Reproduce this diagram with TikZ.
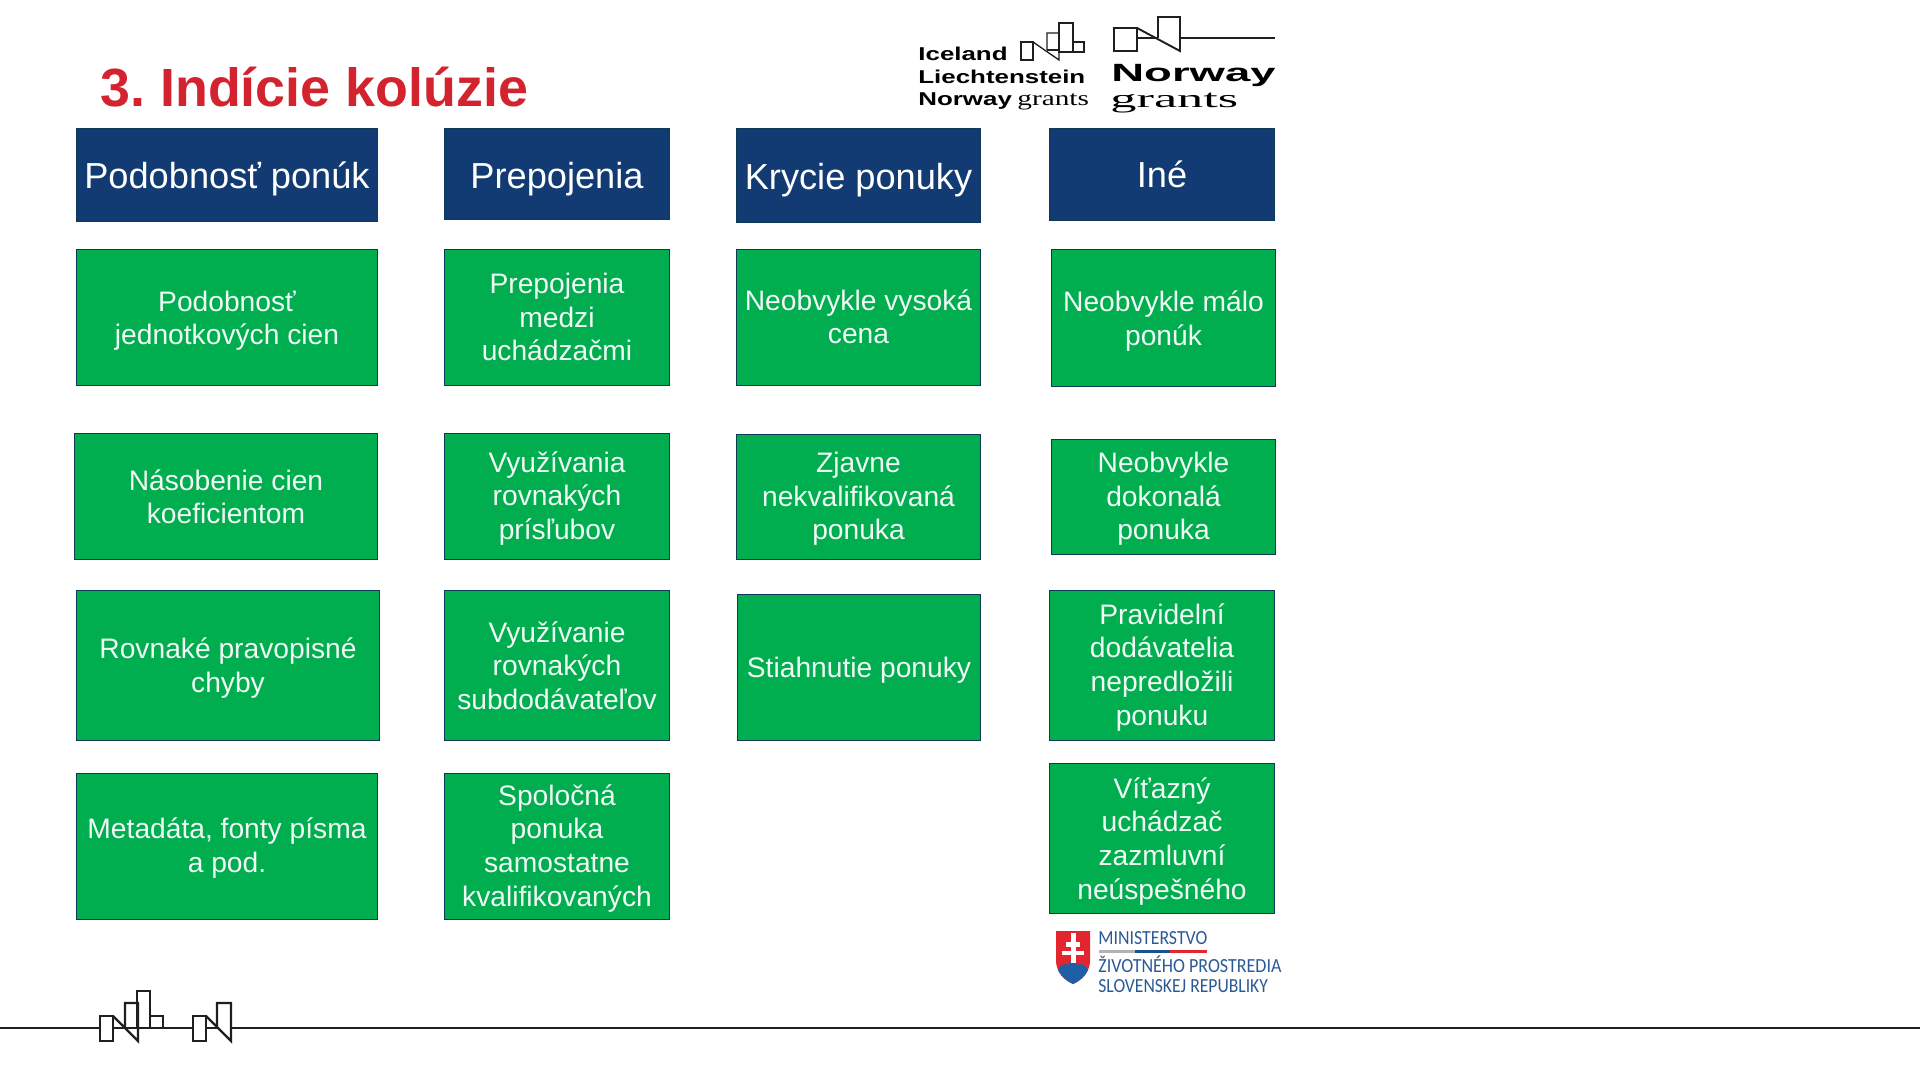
\documentclass[tikz,border=0pt]{standalone}
\usepackage{fontspec}
\setmainfont{Liberation Sans}
\frenchspacing
\newfontfamily\wideb[FakeStretch=1.45]{Liberation Sans}
\newfontfamily\slab[FakeStretch=1.5]{Liberation Serif}
\newfontfamily\minis{Carlito}
\definecolor{navy}{HTML}{123B73}
\definecolor{grn}{HTML}{00AD4F}
\definecolor{edge}{HTML}{0F3A55}
\definecolor{ttl}{HTML}{D2232F}
\definecolor{minblue}{HTML}{2A5A96}
\definecolor{shred}{HTML}{E3262E}
\definecolor{shblue}{HTML}{1F5FA8}
\tikzset{
  x=0.5pt,y=-0.5pt,
  cell/.style={draw=edge,line width=0.8pt,inner sep=0pt,text=white},
  headbox/.style={cell,fill=navy,font=\fontsize{18.1}{21}\selectfont},
  greenbox/.style={cell,fill=grn,text=white!94!grn,font=\fontsize{14.1}{16.8}\selectfont},
  logomark/.style={draw=black!88,line width=1.15pt,line join=miter},
  thinmark/.style={draw=black!88,line width=0.65pt},
  logotext/.style={anchor=base west,inner sep=0pt},
}
% style, name, x1, y1, x2, y2, downward text shift in px, text
\newcommand{\cellbox}[8]{%
  \pgfmathsetmacro{\cx}{(#3+#5)/2}\pgfmathsetmacro{\cy}{(#4+#6)/2}%
  \pgfmathsetmacro{\ww}{(#5-#3)*0.5-0.6}\pgfmathsetmacro{\hh}{(#6-#4)*0.5-0.6}%
  \node[#1,minimum width=\ww pt,minimum height=\hh pt] (#2) at (\cx,\cy)
    {\raisebox{0pt}[\dimexpr\height+#7pt\relax][\depth]{\begin{tabular}{@{}c@{}}#8\end{tabular}}};}
\begin{document}
\begin{tikzpicture}
\useasboundingbox (0,0) rectangle (1920,1080);
\fill[white] (0,0) rectangle (1920,1080);
\node[anchor=base west,inner sep=0pt,text=ttl,font=\fontsize{26.9}{30}\selectfont\bfseries] (title) at (100,107) {3. Indície kolúzie};
% column 1
\cellbox{headbox}{h1}{76}{128}{378}{222}{4.7}{Podobnosť ponúk}
\cellbox{greenbox}{a1}{76}{249}{378}{386}{3.7}{Podobnosť\\jednotkových cien}
\cellbox{greenbox}{a2}{74}{433}{378}{560}{3.6}{Násobenie cien\\koeficientom}
\cellbox{greenbox}{a3}{76}{590}{380}{741}{3.5}{Rovnaké pravopisné\\chyby}
\cellbox{greenbox}{a4}{76}{773}{378}{920}{2.5}{Metadáta, fonty písma\\a pod.}
% column 2
\cellbox{headbox}{h2}{444}{128}{670}{220}{6.2}{Prepojenia}
\cellbox{greenbox}{b1}{444}{249}{670}{386}{2.9}{Prepojenia\\medzi\\uchádzačmi}
\cellbox{greenbox}{b2}{444}{433}{670}{560}{2.5}{Využívania\\rovnakých\\prísľubov}
\cellbox{greenbox}{b3}{444}{590}{670}{741}{3.6}{Využívanie\\rovnakých\\subdodávateľov}
\cellbox{greenbox}{b4}{444}{773}{670}{920}{2.5}{Spoločná\\ponuka\\samostatne\\kvalifikovaných}
% column 3
\cellbox{headbox}{h3}{736}{128}{981}{223}{5.9}{Krycie ponuky}
\cellbox{greenbox}{c1}{736}{249}{981}{386}{2.9}{Neobvykle vysoká\\cena}
\cellbox{greenbox}{c2}{736}{434}{981}{560}{2.5}{Zjavne\\nekvalifikovaná\\ponuka}
\cellbox{greenbox}{c3}{737}{594}{981}{741}{3.7}{Stiahnutie ponuky}
% column 4
\cellbox{headbox}{h4}{1049}{128}{1275}{221}{4.8}{Iné}
\cellbox{greenbox}{d1}{1051}{249}{1276}{387}{3.7}{Neobvykle málo\\ponúk}
\cellbox{greenbox}{d2}{1051}{439}{1276}{555}{2.5}{Neobvykle\\dokonalá\\ponuka}
\cellbox{greenbox}{d3}{1049}{590}{1275}{741}{2.5}{Pravidelní\\dodávatelia\\nepredložili\\ponuku}
\cellbox{greenbox}{d4}{1049}{763}{1275}{914}{3.5}{Víťazný\\uchádzač\\zazmluvní\\neúspešného}
% top-left grants logo
\begin{scope}[thinmark]
\draw (1021,42) rectangle (1033,60);
\draw (1033,42) -- (1059,60) -- (1059,33) -- (1047,33) -- (1047,50);
\draw (1059,23) rectangle (1073,52);
\draw (1073,42) rectangle (1084,52);
\draw (1047,50) -- (1059,50);
\end{scope}
\node[logotext,font=\fontsize{9.3}{10}\wideb\bfseries] (ln1) at (918,61) {\scalebox{0.96}[1]{Iceland}};
\node[logotext,font=\fontsize{9.3}{10}\wideb\bfseries] (ln2) at (918,84) {\scalebox{0.96}[1]{Liechtenstein}};
\node[logotext,font=\fontsize{9.3}{10}\wideb\bfseries] (ln3) at (918,106) {\scalebox{0.96}[1]{Norway}};
\node[logotext,font=\fontsize{10.5}{11}\selectfont\slab] (ln4) at (1017,106) {\scalebox{0.93}[1]{grants}};
% top-right norway logo
\begin{scope}[thinmark,line width=0.95pt]
\draw (1114,28) rectangle (1137,51);
\draw (1137,28) -- (1180,51) -- (1180,17) -- (1158,17) -- (1158,38);
\draw (1137,38) -- (1158,38);
\draw (1180,38) -- (1275,38);
\end{scope}
\node[logotext,font=\fontsize{16}{18}\wideb\bfseries] (nw) at (1111,81.5) {\scalebox{0.98}[0.78]{Norway}};
\node[logotext,font=\fontsize{16}{18}\slab] (gr) at (1110,108) {\scalebox{1.09}[0.8]{grants}};
% ministry logo
\fill[shred] (1056,931) -- (1090,931) -- (1090,962) .. controls (1089,973) and (1082,980) .. (1073,984) .. controls (1064,980) and (1057,973) .. (1056,962) -- cycle;
\fill[shblue] (1058,970) .. controls (1061,964) and (1065,963) .. (1068,965) .. controls (1071,960) and (1075,960) .. (1078,965) .. controls (1081,963) and (1085,964) .. (1088,970) .. controls (1085,976) and (1080,981) .. (1073,984) .. controls (1066,981) and (1061,976) .. (1058,970) -- cycle;
\fill[white] (1070.5,933) rectangle (1075.5,963);
\fill[white] (1066,942) rectangle (1080,946.5);
\fill[white] (1062,950.5) rectangle (1084,955);
\node[logotext,text=minblue,font=\fontsize{10}{11}\minis] (m1) at (1098,944) {\scalebox{0.89}[1]{MINISTERSTVO}};
\fill[black!30] (1099,950) rectangle (1135,953);
\fill[shblue!85!black] (1135,950) rectangle (1170,953);
\fill[shred] (1170,950) rectangle (1207,953);
\node[logotext,text=minblue,font=\fontsize{10}{11}\minis] (m2) at (1098,972) {\scalebox{0.9}[1]{ŽIVOTNÉHO PROSTREDIA}};
\node[logotext,text=minblue,font=\fontsize{10}{11}\minis] (m3) at (1098,992) {\scalebox{0.88}[1]{SLOVENSKEJ REPUBLIKY}};
% bottom line and mark
\begin{scope}[logomark]
\draw (0,1028) -- (100,1028);
\draw (100,1016) rectangle (113,1041);
\draw (113,1016) -- (138,1041) -- (138,1003) -- (125,1003) -- (125,1028);
\draw (113,1028) -- (138,1028);
\draw (137,991) rectangle (150,1028);
\draw (150,1016) rectangle (163,1028);
\draw (163,1028) -- (193,1028);
\draw (193,1016) rectangle (206,1041);
\draw (206,1016) -- (231,1041) -- (231,1003) -- (217,1003) -- (217,1028);
\draw (206,1028) -- (217,1028);
\draw (231,1028) -- (1920,1028);
\end{scope}
\end{tikzpicture}
\end{document}
